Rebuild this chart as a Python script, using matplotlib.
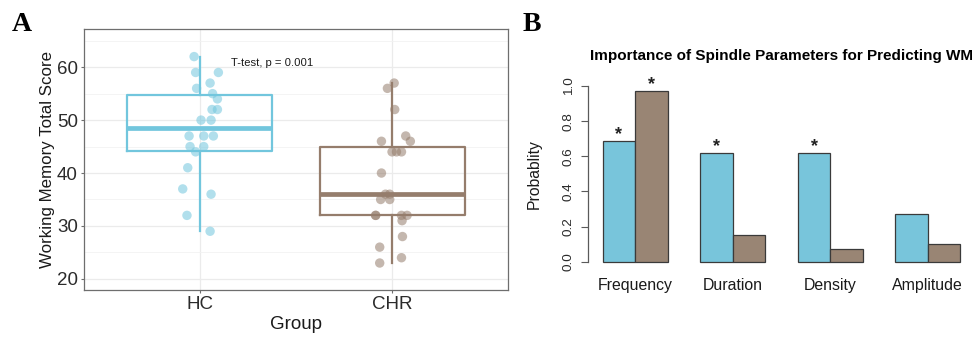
import numpy as np
import matplotlib
matplotlib.use("Agg")
import matplotlib.pyplot as plt

plt.rcParams["font.family"] = ["Liberation Sans", "DejaVu Sans"]

# Panel A: working memory scores per group
groups = ["HC", "CHR"]
hc_scores = [62, 59, 59, 57, 56, 55, 54, 52, 52, 50, 50, 47, 47, 47, 45, 45,
             44, 41, 37, 36, 32, 29]
hc_jitter = [-0.029, -0.021, 0.097, 0.054, -0.016, 0.067, 0.092, 0.064, 0.092,
             0.007, 0.059, -0.055, 0.021, 0.071, -0.050, 0.021, -0.021, -0.062,
             -0.088, 0.059, -0.066, 0.054]
chr_scores = [57, 56, 52, 47, 46, 46, 44, 44, 44, 40, 36, 36, 35, 35, 32, 32,
              32, 32, 31, 28, 26, 24, 23]
chr_jitter = [0.009, -0.026, 0.012, 0.069, -0.057, 0.093, -0.002, 0.021, 0.047,
              -0.057, -0.036, -0.014, -0.061, -0.014, -0.087, -0.087, 0.047,
              0.076, 0.050, 0.052, -0.066, 0.047, -0.066]
test_label = "T-test, p = 0.001"

# Panel B: probability of each spindle parameter
params = ["Frequency", "Duration", "Density", "Amplitude"]
prob_hc = [0.69, 0.62, 0.62, 0.27]
prob_chr = [0.97, 0.15, 0.07, 0.10]
sig_hc = [True, True, True, False]
sig_chr = [True, False, False, False]

blue = "#72C6DD"
brown = "#957D6C"
bar_blue = "#78C5DB"
bar_brown = "#998574"

fig = plt.figure(figsize=(9.75, 3.38), dpi=100)

# ---------------- Panel A ----------------
ax = fig.add_axes([0.0862, 0.142, 0.4349, 0.772])
ax.set_xlim(0.4, 2.6)
ax.set_ylim(17.9, 67.2)
ax.set_yticks([20, 30, 40, 50, 60])
ax.set_yticks([25, 35, 45, 55, 65], minor=True)
ax.set_xticks([1, 2])
ax.set_xticklabels(groups)
ax.grid(True, which="major", color="#EBEBEB", lw=0.9)
ax.grid(True, which="minor", axis="y", color="#F2F2F2", lw=0.6)
ax.set_axisbelow(True)
for s in ax.spines.values():
    s.set_color("#6E6E6E")
    s.set_linewidth(0.9)
ax.tick_params(which="major", length=2.5, color="#6E6E6E", labelsize=13.5,
               labelcolor="#2B2B2B", pad=2)
ax.tick_params(which="minor", length=0)

for i, (scores, jit, col) in enumerate([(hc_scores, hc_jitter, blue),
                                        (chr_scores, chr_jitter, brown)]):
    pos = i + 1
    ax.boxplot(scores, positions=[pos], widths=0.75, whis=1.5,
               showcaps=False, showfliers=False, manage_ticks=False,
               boxprops=dict(color=col, lw=1.6),
               whiskerprops=dict(color=col, lw=1.6),
               medianprops=dict(color=col, lw=3.4, solid_capstyle="butt"))
    ax.scatter(pos + np.array(jit), scores, s=46, color=col, alpha=0.55,
               edgecolors="none", zorder=3)

ax.text(1.163, 60.7, test_label, fontsize=8.1, va="center", ha="left",
        color="#1A1A1A")
ax.set_ylabel("Working Memory Total Score", fontsize=12.2, color="#1A1A1A",
              labelpad=1)
ax.set_xlabel("Group", fontsize=13.5, color="#1A1A1A", labelpad=2)

fig.text(0.012, 0.965, "A", fontsize=20, fontweight="bold",
         family="Liberation Serif", va="top")

# ---------------- Panel B ----------------
bx = fig.add_axes([0.6035, 0.205, 0.3961, 0.561])
bx.set_xlim(0.56, 12.44)
bx.set_ylim(-0.04, 1.04)
grp = np.arange(len(params)) * 3
x_hc = grp + 1.5
x_chr = grp + 2.5
bx.bar(x_hc, prob_hc, width=1.0, color=bar_blue, edgecolor="#3A3A3A", lw=0.9)
bx.bar(x_chr, prob_chr, width=1.0, color=bar_brown, edgecolor="#3A3A3A", lw=0.9)
for xs, vals, sig in [(x_hc, prob_hc, sig_hc), (x_chr, prob_chr, sig_chr)]:
    for x, v, s in zip(xs, vals, sig):
        if s:
            bx.text(x, v - 0.012, "*", ha="center", va="bottom", fontsize=13,
                    fontweight="bold", color="#222222")

for k in ["top", "right", "bottom"]:
    bx.spines[k].set_visible(False)
bx.spines["left"].set_bounds(0, 1)
bx.spines["left"].set_color("#5A5A5A")
bx.spines["left"].set_linewidth(0.9)
bx.set_yticks([0.0, 0.2, 0.4, 0.6, 0.8, 1.0])
bx.set_yticklabels(["0.0", "0.2", "0.4", "0.6", "0.8", "1.0"], rotation=90,
                   va="center")
bx.tick_params(axis="y", length=5, color="#5A5A5A", labelsize=9.7, pad=5,
               labelcolor="#2B2B2B")
bx.set_xticks((x_hc + x_chr) / 2)
bx.set_xticklabels(params)
bx.tick_params(axis="x", length=0, labelsize=11.4, pad=7, labelcolor="#1A1A1A")
bx.set_ylabel("Probablity", fontsize=11.3, color="#1A1A1A", labelpad=15)
bx.set_title("Importance of Spindle Parameters for Predicting WM",
             fontsize=11, fontweight="bold", pad=14)

fig.text(0.536, 0.965, "B", fontsize=20, fontweight="bold",
         family="Liberation Serif", va="top")

fig.savefig("out.png", dpi=100)
